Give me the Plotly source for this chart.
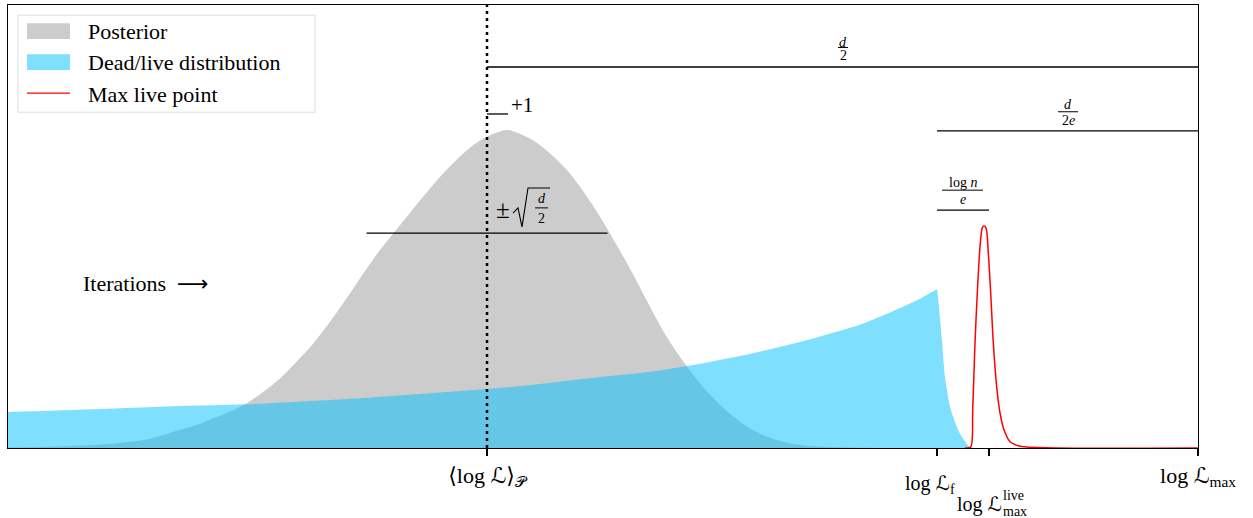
import plotly.graph_objects as go

# Positions on the log-likelihood axis (arbitrary units)
LOGL_MEAN = 0.0      # <log L>_P
LOGL_F = 45.0        # log L_f
LOGL_LIVE = 50.2     # log L_max^live
LOGL_MAX = 71.1      # log L_max
X_MIN = -47.9

# Posterior density in log L
post_x = [-47.9, -38.7, -33.7, -30.7, -29.03, -27.37, -25.7, -24.03, -22.37, -20.7, -19.03, -17.37,
          -15.7, -14.03, -12.37, -10.7, -9.03, -7.37, -5.7, -4.03, -2.37, -0.7, 0.97, 1.97, 2.97,
          4.63, 6.3, 7.97, 9.63, 11.3, 12.97, 14.63, 16.3, 17.97, 19.63, 21.3, 22.97, 24.63, 26.3,
          27.97, 29.63, 31.3, 34.63, 39.3, 71.1]
post_y = [0.001, 0.008, 0.021, 0.041, 0.052, 0.067, 0.082, 0.101, 0.127, 0.157, 0.195, 0.236,
          0.285, 0.338, 0.394, 0.447, 0.494, 0.540, 0.586, 0.628, 0.665, 0.694, 0.712, 0.718, 0.712,
          0.694, 0.665, 0.628, 0.579, 0.522, 0.458, 0.391, 0.319, 0.251, 0.195, 0.146, 0.105, 0.071, 0.044,
          0.026, 0.014, 0.007, 0.002, 0.0, 0.0]

# Dead points, up to log L_f
dead_x = [-47.9, -38.7, -30.7, -23.7, -13.7, -6.7, 0.0, 6.3, 11.3, 16.3, 20.0, 24.3, 28.0, 31.3,
          34.6, 37.3, 39.3, 41.3, 43.2, 45.0]
dead_y = [0.081, 0.088, 0.095, 0.099, 0.111, 0.122, 0.133, 0.147, 0.160, 0.172, 0.185, 0.203, 0.221,
          0.239, 0.260, 0.278, 0.296, 0.316, 0.336, 0.359]

# Live points, beyond log L_f
live_x = [45.0, 45.1, 45.5, 45.8, 46.3, 47.1, 47.7, 48.3, 48.8]
live_y = [0.359, 0.341, 0.244, 0.160, 0.093, 0.041, 0.018, 0.002, 0.0]

# Distribution of the maximum live point
ml_x = [47.8, 48.37, 48.57, 48.8, 49.03, 49.3, 49.53, 49.7, 49.9, 50.13, 50.37, 50.63, 50.97, 51.3,
        51.7, 52.3, 53.13, 53.97, 57.0, 71.1]
ml_y = [0.0, 0.002, 0.086, 0.237, 0.350, 0.454, 0.497, 0.501, 0.497, 0.440, 0.350, 0.237, 0.138,
        0.079, 0.041, 0.014, 0.005, 0.002, 0.0, 0.0]

# Heights of the annotation bars
LEVEL_HALF_D = 0.860
LEVEL_HALF_D_E = 0.716
LEVEL_LOGN_E = 0.537
LEVEL_PLUS1 = 0.754
LEVEL_SQRT = 0.485
SQRT_HALF = 12.05

GREY = "#cccccc"
BLUE = "rgba(0,191,255,0.5)"
SERIF = "Liberation Serif, DejaVu Sans, serif"
TXT = 22

fig = go.Figure()
fig.add_trace(go.Scatter(x=post_x, y=post_y, mode="lines", line=dict(width=0, shape="spline", smoothing=1.0),
                         fill="tozeroy", fillcolor=GREY, name="Posterior", showlegend=False))
fig.add_trace(go.Scatter(x=dead_x, y=dead_y, mode="lines", line=dict(width=0, shape="spline", smoothing=1.0),
                         fill="tozeroy", fillcolor=BLUE, name="Dead/live distribution", showlegend=False))
fig.add_trace(go.Scatter(x=live_x, y=live_y, mode="lines", line=dict(width=0, shape="spline", smoothing=0.7),
                         fill="tozeroy", fillcolor=BLUE, name="Dead/live distribution", showlegend=False))
fig.add_trace(go.Scatter(x=ml_x, y=ml_y, mode="lines",
                         line=dict(color="red", width=1.5, shape="spline", smoothing=0.8),
                         name="Max live point", showlegend=False))

line_k = dict(color="black", width=1.3)
shapes = [
    dict(type="line", x0=LOGL_MEAN, x1=LOGL_MEAN, y0=0, y1=1, line=dict(color="black", width=2.5, dash="3px,4px")),
    dict(type="line", x0=LOGL_MEAN, x1=LOGL_MAX, y0=LEVEL_HALF_D, y1=LEVEL_HALF_D, line=line_k),
    dict(type="line", x0=LOGL_F, x1=LOGL_MAX, y0=LEVEL_HALF_D_E, y1=LEVEL_HALF_D_E, line=line_k),
    dict(type="line", x0=LOGL_F, x1=LOGL_LIVE, y0=LEVEL_LOGN_E, y1=LEVEL_LOGN_E, line=line_k),
    dict(type="line", x0=LOGL_MEAN, x1=LOGL_MEAN + 2.1, y0=LEVEL_PLUS1, y1=LEVEL_PLUS1, line=line_k),
    dict(type="line", x0=LOGL_MEAN - SQRT_HALF, x1=LOGL_MEAN + SQRT_HALF, y0=LEVEL_SQRT, y1=LEVEL_SQRT, line=line_k),
    # radical sign of the square root
    dict(type="path", path="M 2.6 0.530 L 3.1 0.542 L 3.5 0.499 L 4.1 0.587 L 6.3 0.587",
         line=dict(color="black", width=1.1)),
]
annotations = []


def label(x, y, text, size, xanchor="center", xref="x", yref="y"):
    annotations.append(dict(x=x, y=y, xref=xref, yref=yref, text=text, showarrow=False,
                            xanchor=xanchor, yanchor="middle", borderpad=0,
                            font=dict(family=SERIF, size=size, color="black")))


def fraction(x0, x1, y_num, y_bar, y_den, num, den, size=14):
    """Numerator and denominator stacked around a short bar."""
    shapes.append(dict(type="line", x0=x0, x1=x1, y0=y_bar, y1=y_bar, line=dict(color="black", width=1)))
    xc = 0.5 * (x0 + x1)
    label(xc, y_num, num, size)
    label(xc, y_den, den, size)


fraction(35.1, 36.1, 0.916, 0.904, 0.885, "<i>d</i>", "2")
fraction(57.1, 59.1, 0.776, 0.759, 0.739, "<i>d</i>", "2<i>e</i>")
fraction(45.5, 49.6, 0.600, 0.582, 0.561, "log <i>n</i>", "<i>e</i>")
fraction(4.8, 6.1, 0.563, 0.542, 0.518, "<i>d</i>", "2", size=14)

label(2.3, 0.774, "+1", 21, xanchor="left")
label(1.55, 0.539, "±", 25)
label(-40.5, 0.372, "Iterations  ⟶", TXT, xanchor="left")

# Labels for the log L_f and log L_max^live ticks, set below the axis
label(LOGL_F - 0.7, -0.082, "log ℒ<sub>f</sub>", 20, yref="paper")
label(LOGL_LIVE - 3.3, -0.127, "log ℒ", 20, xanchor="left", yref="paper")
label(LOGL_LIVE + 1.25, -0.107, "live", 14, xanchor="left", yref="paper")
label(LOGL_LIVE + 1.25, -0.143, "max", 14, xanchor="left", yref="paper")

# Legend box
LEG_X0, LEG_X1, LEG_Y0, LEG_Y1 = 0.0084, 0.258, 0.758, 0.977
PATCH_X0, PATCH_X1 = 0.0160, 0.0521
shapes += [
    dict(type="rect", xref="paper", yref="paper", x0=LEG_X0, x1=LEG_X1, y0=LEG_Y0, y1=LEG_Y1,
         line=dict(color="#dcdcdc", width=1), fillcolor="white"),
    dict(type="rect", xref="paper", yref="paper", x0=PATCH_X0, x1=PATCH_X1, y0=0.923, y1=0.959,
         line=dict(width=0), fillcolor=GREY),
    dict(type="rect", xref="paper", yref="paper", x0=PATCH_X0, x1=PATCH_X1, y0=0.853, y1=0.889,
         line=dict(width=0), fillcolor=BLUE),
    dict(type="line", xref="paper", yref="paper", x0=PATCH_X0, x1=PATCH_X1, y0=0.801, y1=0.801,
         line=dict(color="red", width=1.3)),
]
for y, name in [(0.940, "Posterior"), (0.871, "Dead/live distribution"), (0.799, "Max live point")]:
    label(0.0664, y, name, TXT, xanchor="left", xref="paper", yref="paper")

fig.update_layout(
    width=1253, height=518,
    margin=dict(l=8, r=55, t=5, b=70, autoexpand=False),
    plot_bgcolor="white", paper_bgcolor="white",
    shapes=shapes, annotations=annotations,
    font=dict(family=SERIF, size=TXT, color="black"),
    showlegend=False,
    xaxis=dict(range=[X_MIN, LOGL_MAX], showgrid=False, zeroline=False, showline=True,
               linecolor="black", linewidth=1.3, mirror=True, ticks="outside", ticklen=7,
               tickwidth=1.5, tickcolor="black",
               tickvals=[LOGL_MEAN, LOGL_F, LOGL_LIVE, LOGL_MAX],
               ticktext=["⟨log ℒ⟩<sub>𝒫</sub>", "", "", "log ℒ<sub>max</sub>"],
               tickfont=dict(family=SERIF, size=TXT)),
    yaxis=dict(range=[0, 1], showgrid=False, zeroline=False, showline=True, linecolor="black",
               linewidth=1.3, mirror=True, showticklabels=False, ticks=""),
)

fig.write_html("out.html")
